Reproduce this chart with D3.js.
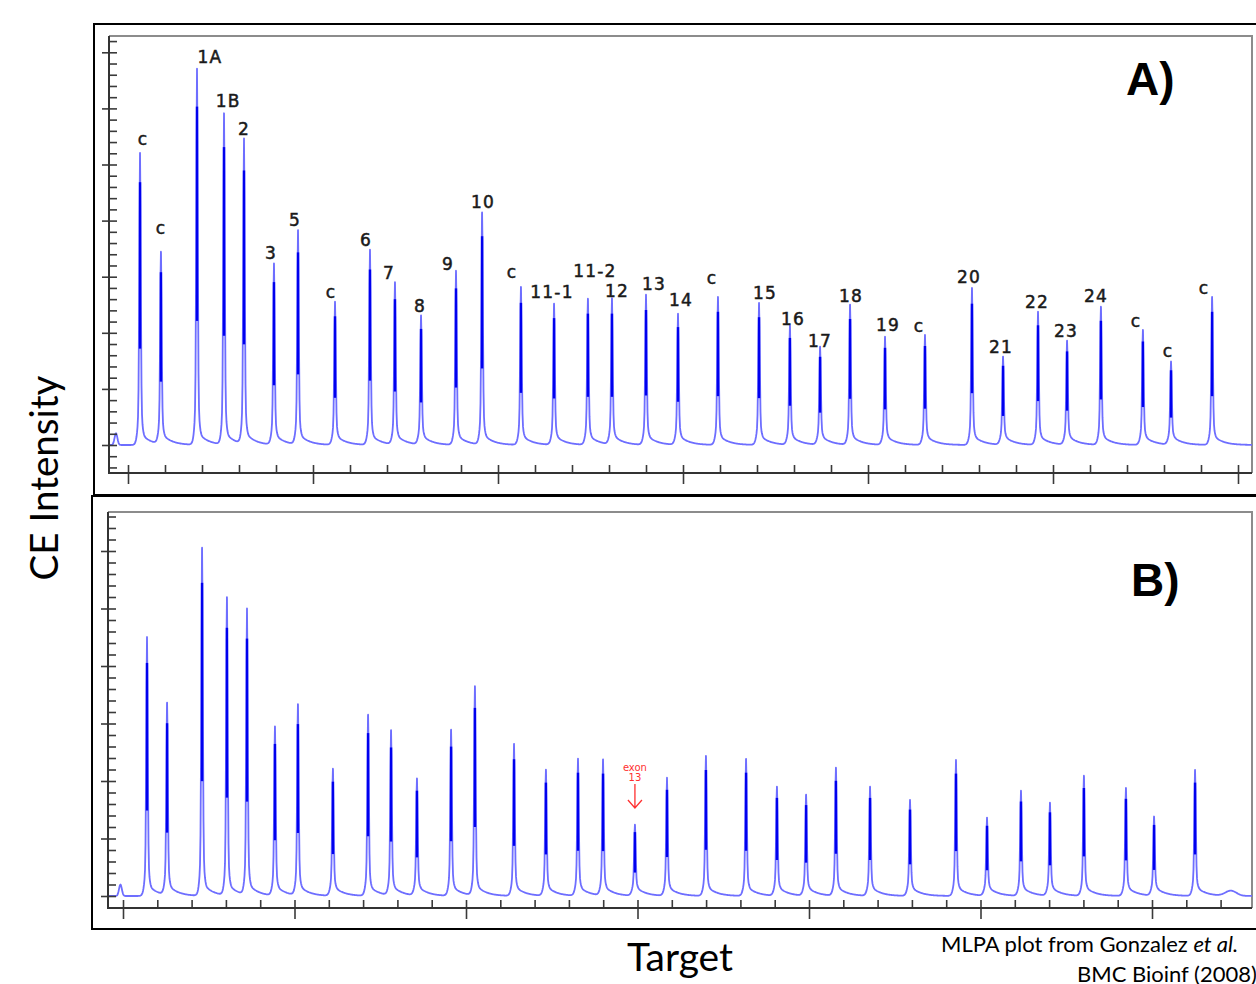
<!DOCTYPE html>
<html>
<head>
<meta charset="utf-8">
<script src="https://cdn.jsdelivr.net/npm/d3@7"></script>
<style>
  body { margin: 0; background: #fff; }
  svg { display: block; }
</style>
</head>
<body>
<svg id="chart" width="1256" height="984"></svg>
<script>
const peakLabels = ["c", "c", "1A", "1B", "2", "3", "5", "c", "6", "7", "8", "9", "10", "c",
  "11-1", "11-2", "12", "13", "14", "c", "15", "16", "17", "18", "19", "c", "20", "21",
  "22", "23", "24", "c", "c", "c"];

const sizeA = [106.5, 117.8, 137.3, 151.9, 162.7, 178.9, 191.9, 211.9, 230.8, 244.3, 258.4,
  277.3, 291.4, 312.4, 330.3, 348.6, 361.6, 380.0, 397.3, 418.9, 441.1, 457.8, 474.1,
  490.3, 509.2, 530.8, 556.2, 573.0, 591.9, 607.6, 625.9, 648.6, 663.8, 686.0];
const heightA = [5205, 3422, 6702, 5900, 5437, 3226, 3815, 2549, 3476, 2888, 2299, 3102,
  4135, 2816, 2513, 2602, 2602, 2674, 2335, 2638, 2531, 2121, 1747, 2496, 1925, 1961,
  2799, 1569, 2371, 1854, 2460, 2050, 1480, 2638];

// where each label sits (same units as the run)
const labelSizeA = [108.1, 117.8, 144.3, 154.1, 162.7, 177.3, 190.3, 209.7, 228.6, 241.1,
  257.8, 273.0, 291.9, 307.6, 329.2, 352.4, 364.3, 384.3, 398.9, 415.7, 444.3, 459.5,
  474.1, 490.8, 510.8, 527.6, 554.6, 571.9, 591.4, 607.0, 623.2, 644.9, 662.2, 681.6];
const labelHeightA = [5348, 3761, 6809, 6025, 5526, 3316, 3904, 2620, 3547, 2959, 2371,
  3119, 4225, 2977, 2620, 2995, 2638, 2763, 2478, 2870, 2602, 2139, 1747, 2549, 2032,
  2014, 2888, 1640, 2442, 1925, 2549, 2103, 1569, 2692];

const sizeB = [114.0, 125.7, 146.1, 160.6, 172.3, 188.6, 202.0, 222.4, 242.9, 256.3, 271.4,
  291.3, 305.2, 328.0, 346.6, 365.3, 379.9, 398.5, 417.2, 439.9, 463.3, 481.3, 498.3,
  515.7, 535.6, 558.9, 585.7, 603.8, 623.6, 640.5, 660.3, 684.8, 701.2, 725.1];
const heightB = [4504, 3339, 6052, 5183, 4974, 2939, 3322, 2209, 3148, 2870, 2035, 2887,
  3635, 2643, 2191, 2383, 2365, 1235, 2052, 2435, 2383, 1896, 1757, 2226, 1896, 1670,
  2365, 1357, 1826, 1617, 2087, 1878, 1374, 2191];

// small primer bump at the start of each run and the tail hump of run B
const bumpA = [{ size: 93.5, height: 210 }];
const bumpB = [{ size: 98.5, height: 200 }, { size: 746, height: 90 }];

const deletedIndex = 17; // exon 13 probe

const svg = d3.select("#chart");

function drawPanel(opt) {
  const x = d3.scaleLinear().domain([100, 700]).range(opt.xRange);
  const y = d3.scaleLinear().domain([0, 1000]).range(opt.yRange);
  const [left, right, top, bottom] = opt.box;

  const g = svg.append("g");

  // outer frame
  g.append("rect")
    .attr("x", opt.frame[0]).attr("y", opt.frame[1])
    .attr("width", opt.frame[2]).attr("height", opt.frame[3])
    .attr("fill", "none").attr("stroke", "#000").attr("stroke-width", 2);

  // inner grey box (top + right)
  g.append("path")
    .attr("d", `M${left},${top}H${right}V${bottom}`)
    .attr("fill", "none").attr("stroke", "#8c8c8c").attr("stroke-width", 2);

  const clipId = "clip" + opt.id;
  g.append("clipPath").attr("id", clipId)
    .append("rect").attr("x", left).attr("y", top)
    .attr("width", right - left).attr("height", bottom - top);

  // trace
  const peaks = opt.sizes.map((s, i) => ({ cx: x(s), h: y(0) - y(opt.heights[i]) }));
  const bumps = opt.bumps.map(b => ({ cx: x(b.size), h: y(0) - y(b.height) }));
  let samples = d3.range(left, right + 0.5, 0.5).concat(peaks.map(p => p.cx));
  samples.sort((a, b) => a - b);
  function profile(px) {
    let v = 0;
    peaks.forEach(p => {
      const dx = px - p.cx;
      if (Math.abs(dx) > 60) return;
      const sh = 0.1 * p.h;
      const s = 9 + 0.015 * p.h;
      v += (p.h - sh - s) * Math.exp(-(dx * dx) / 1.0);
      v += sh * Math.exp(-(dx * dx) / (2.4 * 2.4));
      v += dx < 0 ? s * Math.exp(-(dx * dx) / (3.5 * 3.5)) : s * Math.exp(-dx / 9);
    });
    bumps.forEach(b => {
      const dx = px - b.cx;
      v += b.h * Math.exp(-(dx * dx) / (b.h > 8 ? 4 : 60));
    });
    return v;
  }
  const line = d3.line().x(d => d[0]).y(d => d[1]);
  const pts = samples.map(px => [px, y(0) - profile(px)]);

  const tg = g.append("g").attr("clip-path", `url(#${clipId})`);
  tg.append("path")
    .attr("d", line(pts))
    .attr("fill", "none")
    .attr("stroke", "#6e6eff")
    .attr("stroke-width", 1.8)
    .attr("stroke-linejoin", "round");

  tg.selectAll("line.core")
    .data(peaks)
    .join("line")
    .attr("class", "core")
    .attr("x1", d => d.cx).attr("x2", d => d.cx)
    .attr("y1", d => y(0) - d.h * 0.9)
    .attr("y2", d => y(0) - d.h * 0.33)
    .attr("stroke", "#0000ee")
    .attr("stroke-width", 2.4);

  // left axis
  const yMinor = d3.range(opt.yMinorFrom, opt.yMinorTo + 1, 200);
  const yMajor = d3.range(0, opt.yMajorTo + 1, 1000);
  g.append("g").attr("transform", `translate(${left},0)`)
    .call(d3.axisRight(y).tickValues(yMinor).tickSize(8).tickSizeOuter(0).tickFormat(""))
    .call(a => a.select(".domain").remove());
  g.append("g").attr("transform", `translate(${left},0)`)
    .call(d3.axisLeft(y).tickValues(yMajor).tickSize(7).tickSizeOuter(0).tickFormat(""))
    .call(a => a.select(".domain").remove());

  // bottom axis
  const xMinor = d3.range(100, opt.xMinorTo + 1, 20);
  const xMajor = d3.range(100, 701, 100);
  g.append("g").attr("transform", `translate(0,${bottom})`)
    .call(d3.axisTop(x).tickValues(xMinor).tickSize(8).tickSizeOuter(0).tickFormat(""))
    .call(a => a.select(".domain").remove());
  g.append("g").attr("transform", `translate(0,${bottom})`)
    .call(d3.axisBottom(x).tickValues(xMajor).tickSize(11).tickSizeOuter(0).tickFormat(""))
    .call(a => a.select(".domain").remove());
  g.selectAll(".tick line").attr("stroke", "#3a3a3a").attr("stroke-width", 1.6);

  g.append("path")
    .attr("d", `M${left},${top}V${bottom}H${right}`)
    .attr("fill", "none").attr("stroke", "#333").attr("stroke-width", 2);

  return { x, y };
}

// Panel A
const A = drawPanel({
  id: "A",
  frame: [94, 24, 1180, 471],
  box: [109, 1252, 36, 473],
  xRange: [128, 1238],
  yRange: [445, 445 - 56.1],
  sizes: sizeA, heights: heightA, bumps: bumpA,
  yMinorFrom: -400, yMinorTo: 7200, yMajorTo: 7000, xMinorTo: 700
});

svg.append("g")
  .selectAll("text")
  .data(peakLabels)
  .join("text")
  .attr("x", (d, i) => A.x(labelSizeA[i]))
  .attr("y", (d, i) => A.y(labelHeightA[i]))
  .attr("text-anchor", "middle")
  .attr("font-family", "DejaVu Sans")
  .attr("font-size", 17)
  .attr("letter-spacing", 1.2)
  .attr("fill", "#1a1a1a")
  .attr("stroke", "#1a1a1a")
  .attr("stroke-width", 0.5)
  .text(d => d);

// Panel B
const B = drawPanel({
  id: "B",
  frame: [92, 496, 1180, 433],
  box: [108, 1252, 512, 908],
  xRange: [123, 1152],
  yRange: [896, 896 - 57.5],
  sizes: sizeB, heights: heightB, bumps: bumpB,
  yMinorFrom: -200, yMinorTo: 6600, yMajorTo: 6000, xMinorTo: 740
});

// exon 13 deletion marker
const ex = B.x(sizeB[deletedIndex]);
const tip = B.y(heightB[deletedIndex]) - 17;
const mark = svg.append("g").attr("fill", "#ff3030").attr("font-family", "DejaVu Sans")
  .attr("font-size", 10).attr("text-anchor", "middle");
mark.append("text").attr("x", ex).attr("y", tip - 37).text("exon");
mark.append("text").attr("x", ex).attr("y", tip - 27).text("13");
mark.append("path")
  .attr("d", `M${ex},${tip - 24}V${tip}M${ex - 7},${tip - 8}L${ex},${tip}L${ex + 7},${tip - 8}`)
  .attr("fill", "none").attr("stroke", "#ff3030").attr("stroke-width", 1.3);

// panel letters
svg.append("text").attr("x", 1126).attr("y", 95)
  .attr("font-family", "Liberation Sans, Arial, sans-serif").attr("font-weight", "bold")
  .attr("font-size", 46).text("A)");
svg.append("text").attr("x", 1131).attr("y", 596)
  .attr("font-family", "Liberation Sans, Arial, sans-serif").attr("font-weight", "bold")
  .attr("font-size", 46).text("B)");

// axis titles
svg.append("text")
  .attr("transform", "translate(58,478) rotate(-90)")
  .attr("text-anchor", "middle")
  .attr("font-family", "Lato")
  .attr("font-size", 38)
  .attr("textLength", 205).attr("lengthAdjust", "spacingAndGlyphs")
  .text("CE Intensity");

svg.append("text")
  .attr("x", 680).attr("y", 971)
  .attr("text-anchor", "middle")
  .attr("font-family", "Lato")
  .attr("font-size", 38)
  .attr("textLength", 106).attr("lengthAdjust", "spacingAndGlyphs")
  .text("Target");

// citation (runs past the right edge, as in the source slide)
const cite = svg.append("text").attr("x", 941).attr("y", 952)
  .attr("font-family", "Lato").attr("font-size", 22).attr("fill", "#000");
cite.append("tspan").text("MLPA plot from Gonzalez ");
cite.append("tspan").attr("font-style", "italic").text("et al.");
svg.append("text").attr("x", 1077).attr("y", 982)
  .attr("font-family", "Lato").attr("font-size", 22)
  .text("BMC Bioinf (2008)");
</script>
</body>
</html>
